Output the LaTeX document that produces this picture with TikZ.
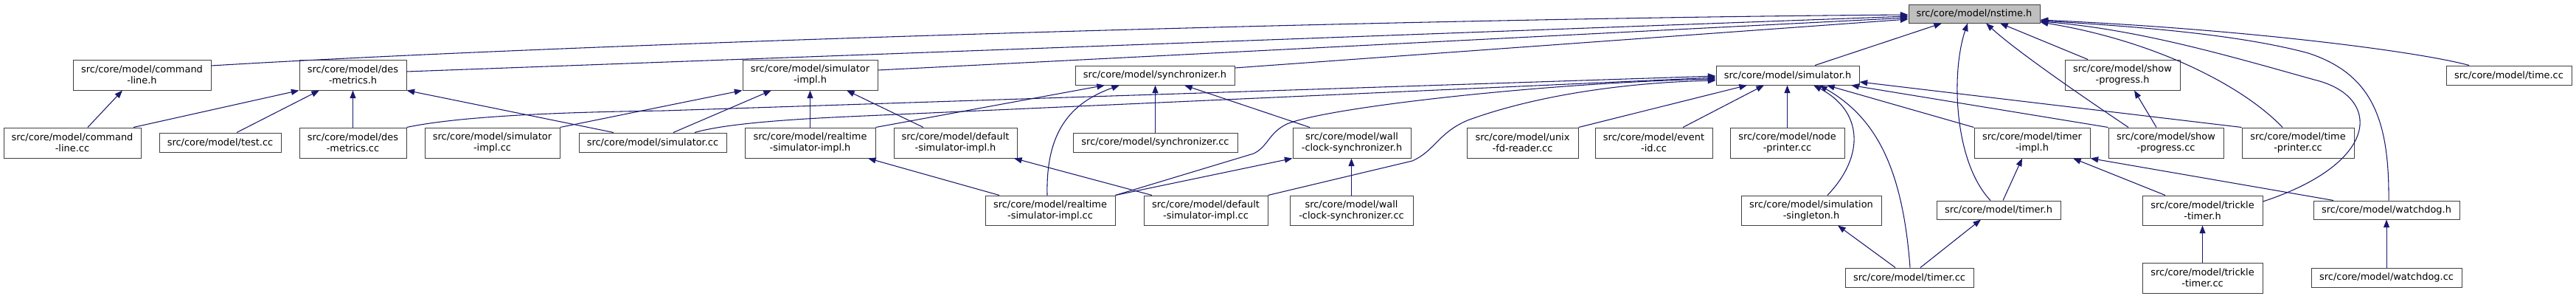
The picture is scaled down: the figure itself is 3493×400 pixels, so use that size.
\documentclass[tikz,border=0pt]{standalone}
\usepackage{fontspec}
\setmainfont{DejaVu Sans}
\usetikzlibrary{arrows.meta,calc}
\definecolor{edgeblue}{HTML}{191970}
\definecolor{boxline}{HTML}{404040}
\definecolor{curfill}{HTML}{BFBFBF}
\begin{document}
\begin{tikzpicture}[x=0.75pt,y=-0.75pt,
  font=\fontsize{9.7pt}{11.25pt}\selectfont,
  filebox/.style={draw=boxline, line width=0.75pt, fill=white, rectangle, inner sep=0pt, align=center},
  sz/.style 2 args={minimum width=#1*0.75pt, minimum height=#2*0.75pt},
  curfile/.style={fill=curfill},
  dep/.style={draw=edgeblue, line width=0.8pt, -{Triangle[length=8pt,width=6pt]}}]
\useasboundingbox (0,0) rectangle (3493,400);
% row 1
\node[filebox, curfile, sz={178}{25}] (nstime) at (2677,18.5) {src/core/model/nstime.h};
% row 2
\node[filebox, sz={187}{41}] (cmdlineh) at (192.5,101.5) {src/core/model/command\\-line.h};
\node[filebox, sz={145}{41}] (desmetricsh) at (478.5,101.5) {src/core/model/des\\-metrics.h};
\node[filebox, sz={183}{41}] (simimplh) at (1098.5,101.5) {src/core/model/simulator\\-impl.h};
\node[filebox, sz={216}{26}] (synch) at (1566,102) {src/core/model/synchronizer.h};
\node[filebox, sz={194}{26}] (simh) at (2424,102) {src/core/model/simulator.h};
\node[filebox, sz={156}{41}] (showprogh) at (2878,101.5) {src/core/model/show\\-progress.h};
\node[filebox, sz={170}{26}] (timecc) at (3402,102) {src/core/model/time.cc};
% row 3
\node[filebox, sz={186}{41}] (cmdlinecc) at (98,193.5) {src/core/model/command\\-line.cc};
\node[filebox, sz={165}{26}] (testcc) at (298.5,193) {src/core/model/test.cc};
\node[filebox, sz={145}{41}] (desmetricscc) at (478.5,193.5) {src/core/model/des\\-metrics.cc};
\node[filebox, sz={183}{41}] (simimplcc) at (667.5,193.5) {src/core/model/simulator\\-impl.cc};
\node[filebox, sz={200}{26}] (simcc) at (885,193) {src/core/model/simulator.cc};
\node[filebox, sz={177}{41}] (rtsimimplh) at (1098.5,193.5) {src/core/model/realtime\\-simulator-impl.h};
\node[filebox, sz={167}{41}] (defsimimplh) at (1295.5,193.5) {src/core/model/default\\-simulator-impl.h};
\node[filebox, sz={223}{26}] (synccc) at (1566.5,193) {src/core/model/synchronizer.cc};
\node[filebox, sz={160}{41}] (wallclockh) at (1833,193.5) {src/core/model/wall\\-clock-synchronizer.h};
\node[filebox, sz={151}{41}] (unixfdcc) at (2064.5,193.5) {src/core/model/unix\\-fd-reader.cc};
\node[filebox, sz={159}{41}] (eventidcc) at (2242.5,193.5) {src/core/model/event\\-id.cc};
\node[filebox, sz={155}{41}] (nodeprintercc) at (2423.5,193.5) {src/core/model/node\\-printer.cc};
\node[filebox, sz={157}{41}] (timerimplh) at (2755.5,193.5) {src/core/model/timer\\-impl.h};
\node[filebox, sz={156}{41}] (showprogcc) at (2937,193.5) {src/core/model/show\\-progress.cc};
\node[filebox, sz={152}{41}] (timeprintercc) at (3116,193.5) {src/core/model/time\\-printer.cc};
% row 4
\node[filebox, sz={176}{40}] (rtsimimplcc) at (1424,285) {src/core/model/realtime\\-simulator-impl.cc};
\node[filebox, sz={168}{40}] (defsimimplcc) at (1635,285) {src/core/model/default\\-simulator-impl.cc};
\node[filebox, sz={167}{40}] (wallclockcc) at (1832.5,285) {src/core/model/wall\\-clock-synchronizer.cc};
\node[filebox, sz={190}{40}] (simsingletonh) at (2456,285) {src/core/model/simulation\\-singleton.h};
\node[filebox, sz={168}{25}] (timerh) at (2710,284.5) {src/core/model/timer.h};
\node[filebox, sz={163}{40}] (trickletimerh) at (2986.5,285) {src/core/model/trickle\\-timer.h};
\node[filebox, sz={198}{25}] (watchdogh) at (3236,284.5) {src/core/model/watchdog.h};
% row 5
\node[filebox, sz={174}{26}] (timercc) at (2589,376) {src/core/model/timer.cc};
\node[filebox, sz={163}{41}] (trickletimercc) at (2986.5,376.5) {src/core/model/trickle\\-timer.cc};
\node[filebox, sz={204}{26}] (watchdogcc) at (3236,376) {src/core/model/watchdog.cc};

% edges to nstime.h
\draw[dep] (cmdlineh.east |- 0,89) .. controls (800,58) and (1900,25) .. (nstime.west |- 0,20);
\draw[dep] (desmetricsh.east |- 0,97) -- (nstime.west |- 0,22);
\draw[dep] (simimplh.east |- 0,95) -- (nstime.west |- 0,24);
\draw[dep] (synch.east |- 0,92) -- (nstime.west |- 0,26);
\draw[dep] (simh.north -| 2461,0) -- (nstime.south -| 2633,0);
\draw[dep] (timerh.north -| 2699,0) .. controls (2650,220) and (2645,100) .. (nstime.south -| 2668,0);
\draw[dep] (showprogcc.north -| 2886,0) .. controls (2830,135) and (2735,70) .. (nstime.south -| 2693,0);
\draw[dep] (showprogh.north -| 2831,0) -- (nstime.south -| 2712,0);
\draw[dep] (timeprintercc.north -| 3095,0) .. controls (3040,115) and (2920,55) .. (nstime.east |- 0,30);
\draw[dep] (trickletimerh.east |- 0,273) .. controls (3230,220) and (3230,130) .. (3138,108) .. controls (3020,75) and (2900,40) .. (nstime.east |- 0,29);
\draw[dep] (watchdogh.north -| 3239,0) .. controls (3240,160) and (3215,100) .. (3130,72) .. controls (3030,45) and (2880,35) .. (nstime.east |- 0,28);
\draw[dep] (timecc.north -| 3348,0) .. controls (3280,70) and (3050,40) .. (nstime.east |- 0,27);

% edges to simulator.h
\draw[dep] (desmetricscc.north east) .. controls (620,158) and (750,152) .. (900,150) -- (simh.west |- 0,103);
\draw[dep] (simcc.north -| 942,0) .. controls (975,170) and (1040,163) .. (1150,158) -- (simh.west |- 0,105);
\draw[dep] (rtsimimplcc.north east) -- (1700,208) .. controls (1720,198) and (1720,180) .. (1745,168) .. controls (1800,145) and (2100,112) .. (simh.west |- 0,107);
\draw[dep] (defsimimplcc.north east) -- (1915,218) .. controls (1945,205) and (1950,180) .. (1990,163) .. controls (2080,130) and (2200,112) .. (simh.west |- 0,109);
\draw[dep] (unixfdcc.north east) -- (simh.south -| 2369,0);
\draw[dep] (eventidcc.north -| 2282,0) -- (simh.south -| 2392,0);
\draw[dep] (nodeprintercc.north) -- (nodeprintercc.north |- simh.south);
\draw[dep] (simsingletonh.north -| 2478,0) .. controls (2530,210) and (2525,150) .. (simh.south -| 2459,0);
\draw[dep] (timercc.north -| 2590,0) .. controls (2580,230) and (2545,160) .. (simh.south -| 2467,0);
\draw[dep] (timerimplh.north west) -- (simh.south -| 2477,0);
\draw[dep] (showprogcc.north west) -- (simh.south -| 2510,0);
\draw[dep] (timeprintercc.north west) -- (simh.east |- 0,111);

% edges to des-metrics.h and command-line.h
\draw[dep] (cmdlinecc.north -| 181,0) -- (desmetricsh.south west);
\draw[dep] (testcc.north -| 321,0) -- (desmetricsh.south -| 433,0);
\draw[dep] (desmetricscc.north) -- (desmetricsh.south);
\draw[dep] (simcc.north -| 832,0) -- (desmetricsh.south east);
\draw[dep] (cmdlinecc.north -| 119,0) -- (cmdlineh.south -| 166,0);

% edges to simulator-impl.h
\draw[dep] (simimplcc.north east) -- (simimplh.south west);
\draw[dep] (simcc.north -| 913,0) -- (simimplh.south -| 1046,0);
\draw[dep] (rtsimimplh.north) -- (simimplh.south);
\draw[dep] (defsimimplh.north -| 1252,0) -- (simimplh.south -| 1148,0);

% edges to synchronizer.h
\draw[dep] (rtsimimplh.north east) -- (synch.south -| 1498,0);
\draw[dep] (rtsimimplcc.north -| 1420,0) .. controls (1418,180) and (1450,140) .. (synch.south -| 1518,0);
\draw[dep] (synccc.north) -- (synccc.north |- synch.south);
\draw[dep] (wallclockh.north -| 1776,0) -- (synch.south -| 1606,0);

% other edges
\draw[dep] (rtsimimplcc.north east) -- (wallclockh.south west);
\draw[dep] (wallclockcc.north) -- (wallclockcc.north |- wallclockh.south);
\draw[dep] (rtsimimplcc.north -| 1355,0) -- (rtsimimplh.south -| 1177,0);
\draw[dep] (defsimimplcc.north -| 1562,0) -- (defsimimplh.south -| 1375,0);
\draw[dep] (showprogcc.north -| 2924,0) -- (showprogh.south -| 2894,0);
\draw[dep] (timerh.north -| 2716,0) -- (timerimplh.south -| 2742,0);
\draw[dep] (trickletimerh.north -| 2936,0) -- (timerimplh.south -| 2811,0);
\draw[dep] (watchdogh.north -| 3164,0) -- (timerimplh.south east);
\draw[dep] (timercc.north -| 2570,0) -- (simsingletonh.south -| 2492,0);
\draw[dep] (timercc.north -| 2604,0) -- (timerh.south -| 2686,0);
\draw[dep] (trickletimercc.north) -- (trickletimerh.south);
\draw[dep] (watchdogcc.north) -- (watchdogh.south);
\end{tikzpicture}
\end{document}
